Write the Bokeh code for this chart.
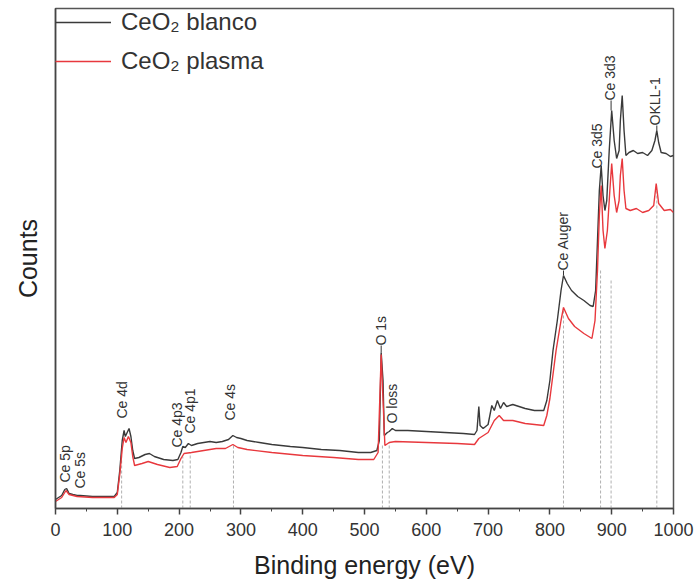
import numpy as np
from bokeh.plotting import figure
from bokeh.models import Range1d, Legend, LegendItem, FixedTicker
from bokeh.core.properties import value
from bokeh.embed import file_html
from bokeh.resources import INLINE

# ---- data (binding energy in eV, counts in arbitrary units) ----
blanco_x = [0, 5, 10, 15, 18, 22, 28, 35, 40, 60, 80, 95, 100, 104, 108, 111, 113, 116, 119, 122,
            125, 128, 135, 145, 152, 160, 175, 190, 198, 203, 206, 210, 215, 220, 230, 240, 250, 260,
            270, 280, 287, 293, 300, 310, 330, 350, 380, 400, 430, 460, 490, 510, 520, 524, 527, 530,
            532, 537, 540, 545, 550, 570, 600, 630, 660, 678, 682, 685, 687, 692, 700, 706, 710, 715,
            720, 725, 730, 740, 750, 760, 775, 790, 795, 800, 805, 812, 818, 822, 828, 835, 845, 855,
            865, 870, 874, 877, 880, 883, 886, 889, 892, 896, 900, 904, 908, 912, 914, 917, 920, 923,
            928, 935, 942, 950, 958, 965, 970, 973, 976, 980, 988, 995, 1000]
blanco_y = [9, 11, 13, 19, 20, 15, 14, 13, 13, 12, 12, 12, 16, 38, 68, 78, 72, 76, 80, 72,
            58, 50, 51, 54, 55, 52, 49, 48, 49, 56, 62, 61, 65, 63, 65, 66, 67, 66,
            67, 69, 73, 71, 70, 68, 66, 64, 62, 61, 59, 58, 56, 56, 58, 68, 156, 128,
            73, 76, 77, 80, 78, 78, 77, 76, 75, 74, 78, 102, 83, 80, 84, 103, 98, 108,
            100, 106, 102, 104, 102, 100, 98, 98, 108, 128, 158, 188, 218, 233, 225, 218, 212, 208,
            203, 202, 218, 268, 318, 343, 313, 298, 308, 358, 398, 368, 350, 358, 388, 413, 378, 353,
            356, 358, 355, 356, 353, 358, 368, 378, 366, 356, 355, 352, 353]

plasma_x = [0, 5, 10, 17, 22, 35, 60, 95, 100, 104, 108, 111, 114, 118, 122, 125, 128, 140, 150,
            165, 185, 197, 203, 208, 220, 240, 260, 275, 287, 295, 310, 350, 400, 450, 490, 515,
            522, 527, 530, 533, 540, 550, 600, 650, 678, 685, 690, 700, 710, 718, 725, 740, 760,
            790, 795, 800, 810, 818, 822, 830, 840, 855, 868, 873, 877, 880, 883, 886, 889, 893,
            897, 900, 904, 908, 912, 914, 917, 920, 923, 930, 940, 950, 960, 968, 972, 976, 985,
            995, 1000]
plasma_y = [7, 9, 11, 18, 14, 12, 11, 11, 14, 34, 60, 71, 66, 72, 66, 52, 43, 45, 47,
            44, 41, 42, 50, 55, 56, 58, 60, 60, 64, 61, 59, 56, 53, 51, 49, 49,
            56, 154, 108, 63, 66, 67, 66, 65, 64, 70, 72, 76, 88, 93, 88, 88, 85,
            83, 93, 110, 158, 188, 201, 190, 182, 175, 170, 188, 238, 293, 323, 278, 260, 278,
            318, 345, 313, 296, 308, 333, 350, 318, 300, 298, 300, 296, 298, 303, 325, 305, 298,
            299, 296]

peak_labels = ["Ce 5p", "Ce 5s", "Ce 4d", "Ce 4p3", "Ce 4p1", "Ce 4s", "O 1s", "O loss",
               "Ce Auger", "Ce 3d5", "Ce 3d3", "OKLL-1"]
peak_label_x = [15, 40, 107, 196, 217, 282, 527, 544, 822, 877, 898, 970]
peak_label_y = [26, 20, 90, 61, 75, 88, 163, 85, 238, 340, 408, 383]

guide_x = [107, 206, 218, 288, 529, 540, 822, 882, 899, 973]
guide_top = [60, 52, 56, 64, 63, 66, 201, 240, 230, 318]

leader_x = [527, 822, 899, 973]
leader_y0 = [156, 233, 398, 378]
leader_y1 = [163, 238, 408, 383]

x_ticks = [0, 100, 200, 300, 400, 500, 600, 700, 800, 900, 1000]
x_minor = [50, 150, 250, 350, 450, 550, 650, 750, 850, 950]

FONT = "Liberation Sans"

p = figure(width=694, height=588, x_range=Range1d(0, 1000), y_range=Range1d(0, 500),
           output_backend="svg", toolbar_location=None,
           min_border_left=55, min_border_right=21, min_border_top=8, min_border_bottom=80)

p.xgrid.visible = False
p.ygrid.visible = False
p.outline_line_color = "#555555"
p.outline_line_width = 1.5
p.background_fill_color = "white"
p.border_fill_color = "white"

# guides
p.segment(x0=guide_x, y0=[0] * len(guide_x), x1=guide_x, y1=guide_top,
          line_color="#b0b0b0", line_width=1, line_dash="3 2")

r_b = p.line(blanco_x, blanco_y, line_color="#3a3a3a", line_width=1.4)
r_p = p.line(plasma_x, plasma_y, line_color="#e8383d", line_width=1.4)

p.segment(x0=leader_x, y0=leader_y0, x1=leader_x, y1=leader_y1, line_color="#333333", line_width=1)

p.text(x=peak_label_x, y=peak_label_y, text=peak_labels, angle=np.pi / 2,
       text_align="left", text_baseline="middle", text_font_size="14px",
       text_color="#333333", text_font=value(FONT))

# axes
xa = p.xaxis[0]
xa.ticker = FixedTicker(ticks=x_ticks, minor_ticks=x_minor)
xa.axis_label = "Binding energy (eV)"
xa.axis_label_text_font = FONT
xa.axis_label_text_font_size = "25px"
xa.axis_label_text_font_style = "normal"
xa.axis_label_text_color = "#222222"
xa.axis_label_standoff = 12
xa.major_label_text_font = FONT
xa.major_label_text_font_size = "18px"
xa.major_label_text_color = "#333333"
xa.major_label_standoff = 8
xa.axis_line_color = "#444444"
xa.axis_line_width = 1.5
xa.major_tick_line_color = "#444444"
xa.major_tick_line_width = 1.5
xa.major_tick_out = 6
xa.major_tick_in = 0
xa.minor_tick_line_color = "#444444"
xa.minor_tick_out = 3
xa.minor_tick_in = 0

ya = p.yaxis[0]
ya.ticker = FixedTicker(ticks=[])
ya.major_label_text_alpha = 0
ya.major_tick_line_color = None
ya.minor_tick_line_color = None
ya.axis_line_color = "#444444"
ya.axis_line_width = 1.5
ya.axis_label = "Counts"
ya.axis_label_text_font = FONT
ya.axis_label_text_font_size = "25px"
ya.axis_label_text_font_style = "normal"
ya.axis_label_text_color = "#222222"
ya.axis_label_standoff = 14

legend = Legend(items=[LegendItem(label="CeO₂ blanco", renderers=[r_b]),
                       LegendItem(label="CeO₂ plasma", renderers=[r_p])],
                location="top_left", margin=0, padding=0, spacing=11,
                glyph_width=56, glyph_height=28, label_height=28, label_standoff=10,
                label_text_font=FONT, label_text_font_size="24px", label_text_color="#333333",
                border_line_color=None, background_fill_alpha=0)
p.add_layout(legend)

open("out.html", "w").write(file_html(p, INLINE))
